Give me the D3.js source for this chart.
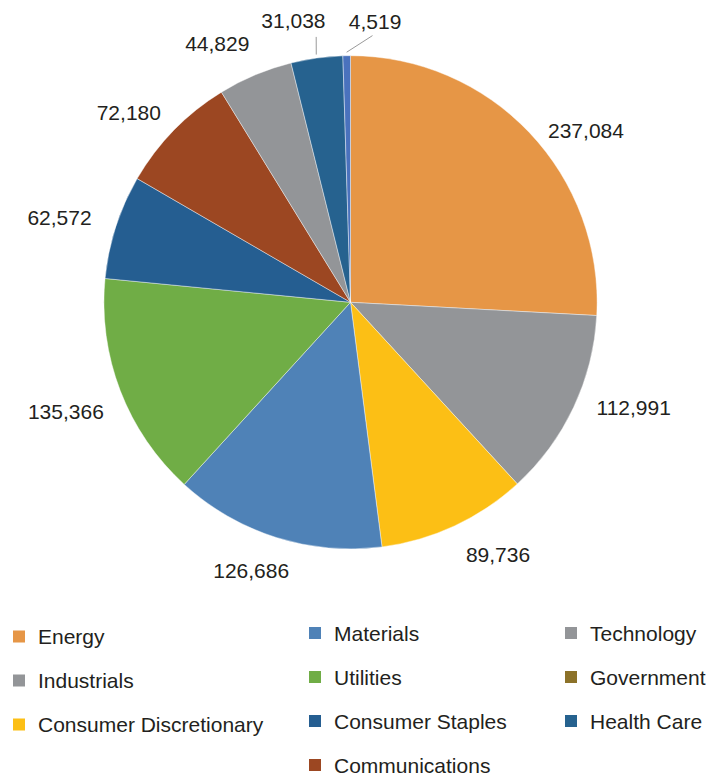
<!DOCTYPE html>
<html>
<head>
<meta charset="utf-8">
<script src="https://cdn.jsdelivr.net/npm/d3@7/dist/d3.min.js"></script>
<style>
  body { margin: 0; background: #ffffff; }
  svg text { font-family: "Liberation Sans", Arial, Helvetica, sans-serif; fill: #231f20; }
</style>
</head>
<body>
<svg id="chart" width="706" height="776"></svg>
<script>
// Sectors, in the order they are drawn clockwise from 12 o'clock
const sectors = ["Energy", "Industrials", "Consumer Discretionary", "Materials", "Utilities",
                 "Consumer Staples", "Communications", "Technology", "Health Care", "Government"];
const amounts = [237084, 112991, 89736, 126686, 135366, 62572, 72180, 44829, 31038, 4519];

// Legend entries, listed column by column
const legendOrder = ["Energy", "Industrials", "Consumer Discretionary",
                     "Materials", "Utilities", "Consumer Staples", "Communications",
                     "Technology", "Government", "Health Care"];
const legendColumnSizes = [3, 4, 3];

// Fill colours
const sliceColors = {
  "Energy": "#e69646", "Industrials": "#939598", "Consumer Discretionary": "#fcbf15",
  "Materials": "#4f82b7", "Utilities": "#70ad46", "Consumer Staples": "#255e91",
  "Communications": "#9c4722", "Technology": "#939598", "Health Care": "#26628f",
  "Government": "#4a72bd"
};
const legendColors = Object.assign({}, sliceColors, { "Government": "#8c7229" });

// Label placement tweaks: [angle shift in degrees, gap from the rim in px]
const labelLayout = {
  "Energy": [7.3, 10], "Industrials": [-4.9, 18], "Consumer Discretionary": [-5.4, 22.6],
  "Materials": [2.8, 19], "Utilities": [0.1, 20], "Consumer Staples": [-1.6, 23.5],
  "Communications": [-3.7, 16], "Technology": [-4.5, 23],
  "Health Care": [-3.6, 26.8], "Government": [5.9, 25.1]
};
// Thin sectors get a leader line; value = angle shift of the line's outer end
const leaderTurn = { "Health Care": 0.5, "Government": 5.6 };

const W = 706, H = 776;
const cx = 350.5, cy = 302.3, radius = 246.6;
const capH = 15;
const fmt = d3.format(",");

const svg = d3.select("#chart");
const g = svg.append("g").attr("transform", `translate(${cx},${cy})`);

const pie = d3.pie().sort(null).value(d => d.value);
const data = pie(sectors.map((s, i) => ({ name: s, value: amounts[i] })));
const arc = d3.arc().innerRadius(0).outerRadius(radius);

g.selectAll("path.slice")
  .data(data)
  .join("path")
  .attr("class", "slice")
  .attr("d", arc)
  .attr("fill", d => sliceColors[d.data.name])
  .attr("stroke", "#ffffff")
  .attr("stroke-opacity", 0.6)
  .attr("stroke-width", 0.7)
  .attr("stroke-linejoin", "round");

const deg = Math.PI / 180;
const polar = (a, r) => [r * Math.sin(a), -r * Math.cos(a)];

data.forEach(d => {
  const name = d.data.name;
  const mid = (d.startAngle + d.endAngle) / 2;
  const [turn, gap] = labelLayout[name];
  const a = mid + turn * deg;
  const t = g.append("text")
    .attr("text-anchor", "middle")
    .style("font-size", "21px")
    .text(fmt(d.data.value));
  const w = t.node().getComputedTextLength();
  const ux = Math.sin(a), uy = -Math.cos(a);
  const dist = radius + gap + (w / 2) * Math.abs(ux) + (capH / 2) * Math.abs(uy);
  const lx = dist * ux, ly = dist * uy;
  t.attr("x", lx).attr("y", ly + capH / 2);

  if (leaderTurn[name] !== undefined) {
    const p0 = polar(mid, radius + 3.5);
    const p1 = polar(mid + leaderTurn[name] * deg, radius + 21);
    g.append("line")
      .attr("x1", p0[0]).attr("y1", p0[1])
      .attr("x2", p1[0]).attr("y2", p1[1])
      .attr("stroke", "#9a9a9a")
      .attr("stroke-width", 1);
  }
});

// Legend
const colX = [13, 309, 565];
const colTop = [636.5, 633, 633];
const rowStep = 44;
const legend = svg.append("g");
let k = 0;
legendColumnSizes.forEach((n, c) => {
  for (let r = 0; r < n; r++, k++) {
    const name = legendOrder[k];
    const y = colTop[c] + r * rowStep;
    const item = legend.append("g").attr("transform", `translate(${colX[c]},${y})`);
    item.append("rect")
      .attr("x", 0).attr("y", -6).attr("width", 12).attr("height", 12)
      .attr("fill", legendColors[name]);
    item.append("text")
      .attr("x", 25).attr("y", capH / 2)
      .style("font-size", "21px")
      .text(name);
  }
});
</script>
</body>
</html>
